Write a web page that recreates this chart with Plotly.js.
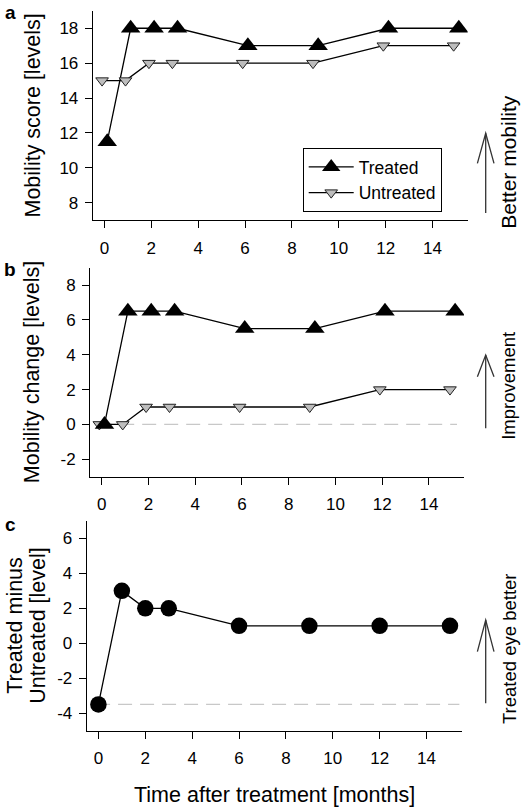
<!DOCTYPE html>
<html>
<head>
<meta charset="utf-8">
<script src="https://cdn.plot.ly/plotly-3.0.1.min.js"></script>
<style>html,body{margin:0;padding:0;background:#fff;}#chart{width:523px;height:810px;}</style>
</head>
<body>
<div id="chart"></div>
<script>
// ---- data ----
const months = [0, 1, 2, 3, 6, 9, 12, 15];
const treatedScore = [11.5, 18, 18, 18, 17, 17, 18, 18];
const untreatedScore = [15, 15, 16, 16, 16, 16, 17, 17];
const treatedChange = [0, 6.5, 6.5, 6.5, 5.5, 5.5, 6.5, 6.5];
const untreatedChange = [0, 0, 1, 1, 1, 1, 2, 2];
const difference = [-3.5, 3, 2, 2, 1, 1, 1, 1];

const xTickVals = [0, 2, 4, 6, 8, 10, 12, 14];
const xTickText = ["0", "2", "4", "6", "8", "10", "12", "14"];
const yTickValsA = [8, 10, 12, 14, 16, 18];
const yTickTextA = ["8", "10", "12", "14", "16", "18"];
const yTickValsB = [-2, 0, 2, 4, 6, 8];
const yTickTextB = ["-2", "0", "2", "4", "6", "8"];
const yTickValsC = [-4, -2, 0, 2, 4, 6];
const yTickTextC = ["-4", "-2", "0", "2", "4", "6"];

const seriesNames = ["Treated", "Untreated"];
const refLineB = 0;
const refLineC = -3.5;

// ---- styling helpers ----
const W = 523, H = 810;
const fx = p => p / W;
const fy = p => 1 - p / H;
const FONT = "Liberation Sans, Arial, Helvetica, sans-serif";
const treatedShift = 0.12, untreatedShift = -0.1;
const shift = (arr, d) => arr.map(v => v + d);

const lineStyle = {color: "#000", width: 1.3};
const treatedMarker = {symbol: "triangle-up", size: 17, color: "#000", line: {color: "#000", width: 0}};
const untreatedMarker = {symbol: "triangle-down", size: 11, color: "#bdbdbd", line: {color: "#222", width: 1}};

const traces = [
  {x: shift(months, treatedShift), y: treatedScore, xaxis: "x", yaxis: "y", name: seriesNames[0],
   mode: "lines+markers", line: lineStyle, marker: treatedMarker, showlegend: true},
  {x: shift(months, untreatedShift), y: untreatedScore, xaxis: "x", yaxis: "y", name: seriesNames[1],
   mode: "lines+markers", line: lineStyle, marker: untreatedMarker, showlegend: true},
  {x: shift(months, untreatedShift), y: untreatedChange, xaxis: "x2", yaxis: "y2", name: seriesNames[1],
   mode: "lines+markers", line: lineStyle, marker: untreatedMarker, showlegend: false},
  {x: shift(months, treatedShift), y: treatedChange, xaxis: "x2", yaxis: "y2", name: seriesNames[0],
   mode: "lines+markers", line: lineStyle, marker: treatedMarker, showlegend: false},
  {x: months, y: difference, xaxis: "x3", yaxis: "y3", name: "Difference",
   mode: "lines+markers", line: lineStyle,
   marker: {symbol: "circle", size: 16.5, color: "#000", line: {color: "#000", width: 0}}, showlegend: false}
];

const tickFont = {family: FONT, size: 17, color: "#000"};
function xAx(dom, anchor) {
  return {domain: dom, anchor: anchor, range: [-0.5, 15.5], showgrid: false, zeroline: false,
    showline: true, linecolor: "#000", linewidth: 1, ticks: "outside", ticklen: 7, tickwidth: 1,
    tickcolor: "#000", tickmode: "array", tickvals: xTickVals, ticktext: xTickText,
    tickfont: tickFont, ticklabelstandoff: 5, automargin: false, fixedrange: true};
}
function yAx(dom, anchor, range, vals, text) {
  return {domain: dom, anchor: anchor, range: range, showgrid: false, zeroline: false,
    showline: true, linecolor: "#000", linewidth: 1, ticks: "outside", ticklen: 7, tickwidth: 1,
    tickcolor: "#000", tickmode: "array", tickvals: vals, ticktext: text,
    tickfont: tickFont, ticklabelstandoff: 3, automargin: false, fixedrange: true};
}

// panel pixel boxes
const pA = {l: 92.7, r: 467.7, t: 10.8, b: 220.2};
const pB = {l: 90, r: 464, t: 267.6, b: 476.7};
const pC = {l: 86.7, r: 461.7, t: 521, b: 730.6};

const titleFont = {family: FONT, size: 21.5, color: "#000"};
const sideFont = {family: FONT, size: 18.5, color: "#000"};
const sideFontA = {family: FONT, size: 21, color: "#000"};
const letterFont = {family: FONT, size: 19, color: "#000"};

function ann(text, x, y, font, angle) {
  return {text: text, xref: "paper", yref: "paper", x: fx(x), y: fy(y), showarrow: false,
    xanchor: "center", yanchor: "middle", font: font, textangle: angle || 0};
}

const annotations = [
  ann("<b>a</b>", 10, 12, letterFont),
  ann("<b>b</b>", 10, 269, letterFont),
  ann("<b>c</b>", 10, 524, letterFont),
  ann("Mobility score [levels]", 32, (pA.t + pA.b) / 2, titleFont, -90),
  ann("Mobility change [levels]", 32, (pB.t + pB.b) / 2, titleFont, -90),
  ann("Treated minus", 15, (pC.t + pC.b) / 2, titleFont, -90),
  ann("Untreated [level]", 38, (pC.t + pC.b) / 2, titleFont, -90),
  ann("Time after treatment [months]", (pC.l + pC.r) / 2, 795, titleFont),
  ann("Better mobility", 509, 161.7, sideFontA, -90),
  ann("Improvement", 509, 385.8, sideFont, -90),
  ann("Treated eye better", 509, 649, sideFont, -90)
];

function arrow(xc, yBottom, yTip, yArm, half) {
  const X = fx(xc), Xl = fx(xc - half), Xr = fx(xc + half);
  return [
    {type: "line", xref: "paper", yref: "paper", x0: X, x1: X, y0: fy(yBottom), y1: fy(yTip),
     line: {color: "#333", width: 1.3}},
    {type: "path", xref: "paper", yref: "paper",
     path: `M ${Xl} ${fy(yArm)} L ${X} ${fy(yTip)} L ${Xr} ${fy(yArm)}`,
     line: {color: "#333", width: 1.3}}
  ];
}

const dashStyle = {color: "#c8c8c8", width: 1.3, dash: "14px,8px"};
const shapes = [
  {type: "line", xref: "x2", yref: "y2", x0: -0.15, x1: 15.2, y0: refLineB, y1: refLineB, line: dashStyle, layer: "below"},
  {type: "line", xref: "x3", yref: "y3", x0: -0.1, x1: 15.4, y0: refLineC, y1: refLineC, line: dashStyle, layer: "below"},
  ...arrow(485.7, 213, 133.3, 163.3, 8.3),
  ...arrow(485.7, 428.3, 355, 376.7, 8.3),
  ...arrow(485.7, 703.3, 620, 651.7, 8.3)
];

const layout = {
  width: W, height: H,
  margin: {l: 0, r: 0, t: 0, b: 0, pad: 0},
  paper_bgcolor: "#fff", plot_bgcolor: "#fff",
  font: {family: FONT, color: "#000"},
  xaxis: xAx([fx(pA.l), fx(pA.r)], "y"),
  yaxis: yAx([fy(pA.b), fy(pA.t)], "x", [7, 19], yTickValsA, yTickTextA),
  xaxis2: xAx([fx(pB.l), fx(pB.r)], "y2"),
  yaxis2: yAx([fy(pB.b), fy(pB.t)], "x2", [-3, 9], yTickValsB, yTickTextB),
  xaxis3: xAx([fx(pC.l), fx(pC.r)], "y3"),
  yaxis3: yAx([fy(pC.b), fy(pC.t)], "x3", [-5, 7], yTickValsC, yTickTextC),
  showlegend: true,
  legend: {x: fx(302.7), y: fy(148), xanchor: "left", yanchor: "top",
    bordercolor: "#000", borderwidth: 1, bgcolor: "#fff",
    font: {family: FONT, size: 17.5, color: "#000"}, itemwidth: 45,
    tracegroupgap: 0, itemclick: false, itemdoubleclick: false},
  annotations: annotations,
  shapes: shapes
};

Plotly.newPlot("chart", traces, layout, {staticPlot: true, displayModeBar: false});
</script>
</body>
</html>
